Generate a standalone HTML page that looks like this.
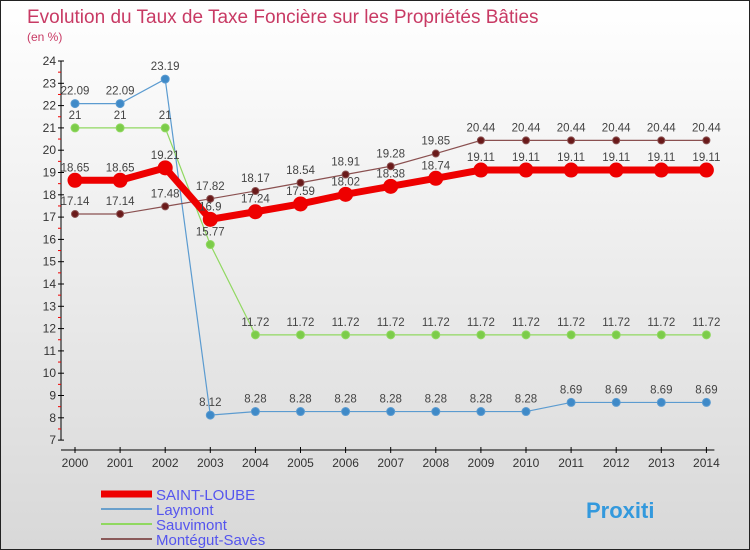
<!DOCTYPE html>
<html><head><meta charset="utf-8"><style>
body{margin:0}
#c{width:748px;height:548px;border:1px solid #222;background:linear-gradient(#fff,#d8d8d8);font-family:"Liberation Sans",sans-serif;position:relative;overflow:hidden}
</style></head><body>
<div id="c">
<svg id="s" width="748" height="548" style="position:absolute;left:0;top:0">
<text x="26" y="22" font-size="19" fill="#c83a64">Evolution du Taux de Taxe Foncière sur les Propriétés Bâties</text>
<text x="26" y="40" font-size="12" fill="#c83a64">(en %)</text>
</svg>
</div>
<script>
const years=["2000","2001","2002","2003","2004","2005","2006","2007","2008","2009","2010","2011","2012","2013","2014"];
const saintLoube=[18.65,18.65,19.21,16.9,17.24,17.59,18.02,18.38,18.74,19.11,19.11,19.11,19.11,19.11,19.11];
const laymont=[22.09,22.09,23.19,8.12,8.28,8.28,8.28,8.28,8.28,8.28,8.28,8.69,8.69,8.69,8.69];
const sauvimont=[21,21,21,15.77,11.72,11.72,11.72,11.72,11.72,11.72,11.72,11.72,11.72,11.72,11.72];
const montegut=[17.14,17.14,17.48,17.82,18.17,18.54,18.91,19.28,19.85,20.44,20.44,20.44,20.44,20.44,20.44];
const yTicks=[7,8,9,10,11,12,13,14,15,16,17,18,19,20,21,22,23,24];
const NS="http://www.w3.org/2000/svg",s=document.getElementById('s');
const X=i=>74+i*45.1, Y=v=>60+(24-v)*22.3;
function mk(t,a,p){const e=document.createElementNS(NS,t);for(const k in a)e.setAttribute(k,a[k]);(p||s).appendChild(e);return e;}
const ax=mk('g',{});


mk('line',{x1:60,y1:Y(24),x2:60,y2:Y(7),stroke:'#000'},ax);
mk('line',{x1:60,y1:449,x2:X(14)+8,y2:449,stroke:'#000'},ax);
yTicks.forEach(v=>{mk('line',{x1:57,y1:Y(v),x2:63,y2:Y(v),stroke:'#000'},ax);
 if(v<24)mk('line',{x1:57,y1:Y(v+0.5),x2:60,y2:Y(v+0.5),stroke:'#e00'},ax);
 const t=mk('text',{x:55,y:Y(v)+4,'text-anchor':'end','font-size':12,fill:'#333'},ax);t.textContent=v;
 
 });
years.forEach((y,i)=>{mk('line',{x1:X(i),y1:446,x2:X(i),y2:452,stroke:'#000'},ax);
 const t=mk('text',{x:X(i),y:466,'text-anchor':'middle','font-size':12,fill:'#333'},ax);t.textContent=y;
 
 });
function series(d,col,dot,w,r,name){
 const g=mk('g',{});
 
 
 mk('polyline',{points:d.map((v,i)=>X(i)+','+Y(v)).join(' '),fill:'none',stroke:col,'stroke-width':w},g);
 d.forEach((v,i)=>{const c=mk('circle',{cx:X(i),cy:Y(v),r:r,fill:dot,stroke:col,'stroke-width':1},g);
  
  
  const t=mk('text',{x:X(i),y:Y(v)-9,'text-anchor':'middle','font-size':11.5,fill:'#444'},g);t.textContent=String(v);
  
  });
}
series(laymont,'#5b9bd0','#3f8ac8',1.2,4,'series-laymont');
series(sauvimont,'#90d860','#7ccc4a',1.2,4,'series-sauvimont');
series(montegut,'#8a5050','#6a1a1a',1.2,3.5,'series-montegut-saves');
series(saintLoube,'#ee0000','#ee0000',7,7,'series-saint-loube');
const leg=[['SAINT-LOUBE','#ee0000',7],['Laymont','#6aa0cc',2],['Sauvimont','#90d860',2],['Montégut-Savès','#8a5a5a',2]];
leg.forEach((l,i)=>{const g=mk('g',{});
 
 
 const y=493+i*15;
 mk('line',{x1:100,y1:y,x2:151,y2:y,stroke:l[1],'stroke-width':l[2]},g);
 const t=mk('text',{x:155,y:y+6,'font-size':15,fill:'#5555ee'},g);t.textContent=l[0];});
const p=mk('text',{x:585,y:517,'font-size':22,'font-weight':'bold',fill:'#3399dd'});p.textContent='Proxiti';


</script>
</body></html>
